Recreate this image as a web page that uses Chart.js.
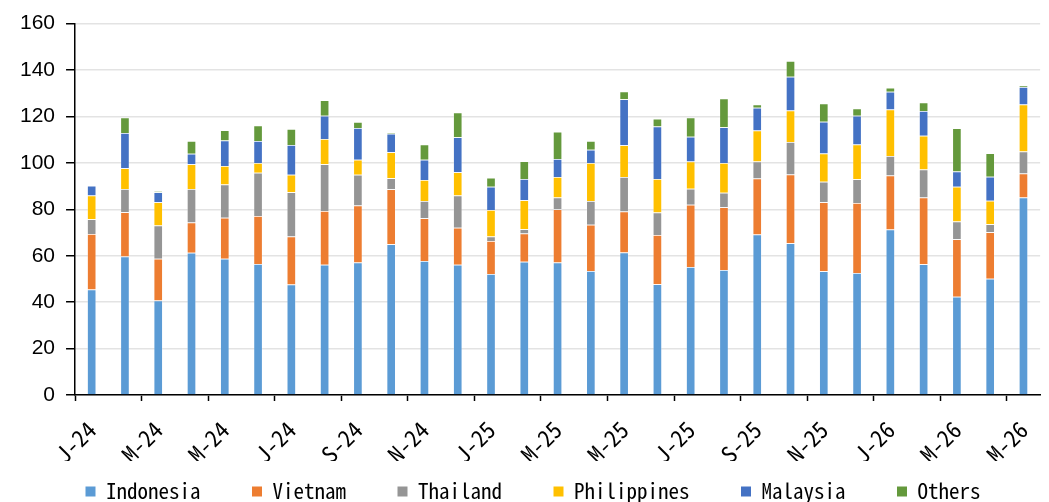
<!DOCTYPE html>
<html>
<head>
<meta charset="utf-8">
<title>Monthly volumes by origin</title>
<script src="https://cdn.jsdelivr.net/npm/chart.js@4.4.1/dist/chart.umd.min.js"></script>
<style>
  html, body { margin: 0; padding: 0; background: #ffffff; overflow: hidden; }
  #wrap { position: relative; width: 1058px; height: 502px; }
</style>
</head>
<body>
<div id="wrap"><canvas id="chart"></canvas></div>
<script>
// Months Jan-24 .. May-26, shown as initial letter + year
const categories = [
  'J-24','F-24','M-24','A-24','M-24','J-24','J-24','A-24','S-24','O-24','N-24','D-24',
  'J-25','F-25','M-25','A-25','M-25','J-25','J-25','A-25','S-25','O-25','N-25','D-25',
  'J-26','F-26','M-26','A-26','M-26'
];

const indonesia = [45.4, 59.7, 40.7, 61.3, 58.7, 56.4, 47.6, 56.1, 57.1, 64.9, 57.7, 56.1,
                   52.1, 57.4, 57.1, 53.4, 61.4, 47.7, 55.1, 53.9, 69.1, 65.4, 53.3, 52.6,
                   71.3, 56.3, 42.3, 50.1, 85.1];
const vietnam   = [24.0, 19.0, 18.0, 13.0, 17.7, 20.7, 20.7, 23.2, 24.5, 23.7, 18.4, 16.0,
                   14.2, 12.2, 22.9, 19.9, 17.6, 21.2, 26.9, 27.0, 24.2, 29.6, 29.7, 30.1,
                   23.3, 28.8, 24.8, 20.0, 10.3];
const thailand  = [6.3, 10.0, 14.3, 14.4, 14.3, 18.6, 19.0, 20.1, 13.3, 4.8, 7.5, 13.8,
                   2.0, 1.8, 5.1, 10.3, 14.9, 9.7, 6.9, 6.2, 7.3, 14.0, 8.9, 10.2,
                   8.4, 12.0, 7.6, 3.5, 9.5];
const philippines = [10.2, 9.0, 10.0, 10.7, 8.0, 4.2, 7.6, 10.9, 6.5, 11.2, 9.0, 10.1,
                     11.4, 12.5, 8.8, 16.3, 13.7, 14.5, 11.7, 12.9, 13.3, 13.6, 12.1, 15.0,
                     20.0, 14.6, 15.0, 10.1, 20.2];
const malaysia  = [4.2, 15.2, 4.3, 4.5, 10.9, 9.5, 12.8, 10.0, 13.6, 8.0, 8.7, 15.0,
                   10.0, 9.2, 7.8, 5.8, 19.8, 22.6, 10.7, 15.4, 9.8, 14.5, 13.7, 12.4,
                   7.6, 10.7, 6.6, 10.3, 7.6];
const others    = [0.0, 6.7, 0.6, 5.5, 4.5, 6.7, 6.9, 6.7, 2.6, 0.3, 6.6, 10.7,
                   3.9, 7.6, 11.7, 3.7, 3.3, 3.3, 8.3, 12.3, 1.4, 6.8, 7.9, 3.1,
                   1.8, 3.6, 18.6, 10.1, 0.6];

const yTicks = [0, 20, 40, 60, 80, 100, 120, 140, 160];

const seriesNames  = ['Indonesia', 'Vietnam', 'Thailand', 'Philippines', 'Malaysia', 'Others'];
const seriesValues = [indonesia, vietnam, thailand, philippines, malaysia, others];
const seriesColors = ['#5B9BD5', '#ED7D31', '#959595', '#FFC000', '#4472C4', '#64993C'];

const monoFont = "'Noto Sans Mono CJK SC', 'Liberation Mono', 'DejaVu Sans Mono', monospace";
// extra room after each legend entry except the last (the legend padding also sets its height)
const legendGap = '   ';

const datasets = seriesNames.map((name, i) => ({
  label: name,
  data: seriesValues[i],
  backgroundColor: seriesColors[i],
  borderColor: 'rgba(255,255,255,0.35)',
  borderWidth: 0.75,
  barPercentage: 0.95,
  categoryPercentage: 0.29
}));

new Chart(document.getElementById('chart'), {
  type: 'bar',
  data: { labels: categories, datasets },
  options: {
    responsive: true,
    maintainAspectRatio: false,
    animation: false,
    layout: { padding: { top: 20, left: 9, right: 1, bottom: -10 } },
    plugins: {
      legend: {
        position: 'bottom',
        labels: {
          boxWidth: 10,
          boxHeight: 10,
          padding: 20,
          color: '#000',
          font: { family: monoFont, size: 21 },
          generateLabels: chart => {
            const items = Chart.defaults.plugins.legend.labels.generateLabels(chart);
            items.forEach((it, i) => {
              if (i < items.length - 1) it.text = it.text + legendGap;
              it.lineWidth = 0;
            });
            return items;
          }
        }
      },
      tooltip: { enabled: false }
    },
    scales: {
      x: {
        stacked: true,
        // keep the band under the axis just tall enough for the slanted labels
        afterFit: scale => { scale.height = 66; },
        border: { color: '#000', width: 1.5 },
        grid: {
          drawOnChartArea: false,
          drawTicks: true,
          tickLength: 6,
          tickWidth: 1.5,
          tickColor: ctx => (ctx.index % 2 === 0 ? '#000' : 'rgba(0,0,0,0)')
        },
        ticks: {
          autoSkip: false,
          minRotation: 45,
          maxRotation: 45,
          padding: 15,
          color: '#000',
          font: { family: monoFont, size: 23 },
          callback: (v, i) => (i % 2 === 0 ? categories[i] : '')
        }
      },
      y: {
        stacked: true,
        min: 0,
        max: 160,
        afterBuildTicks: axis => { axis.ticks = yTicks.map(v => ({ value: v })); },
        border: { color: '#000', width: 1.5 },
        grid: {
          color: '#e3e3e3',
          lineWidth: 1.5,
          tickColor: '#000',
          tickLength: 9,
          tickWidth: 1.5
        },
        ticks: {
          padding: 11,
          color: '#000',
          font: { family: "'Liberation Sans', Arial, sans-serif", size: 21 }
        }
      }
    }
  }
});
</script>
</body>
</html>
